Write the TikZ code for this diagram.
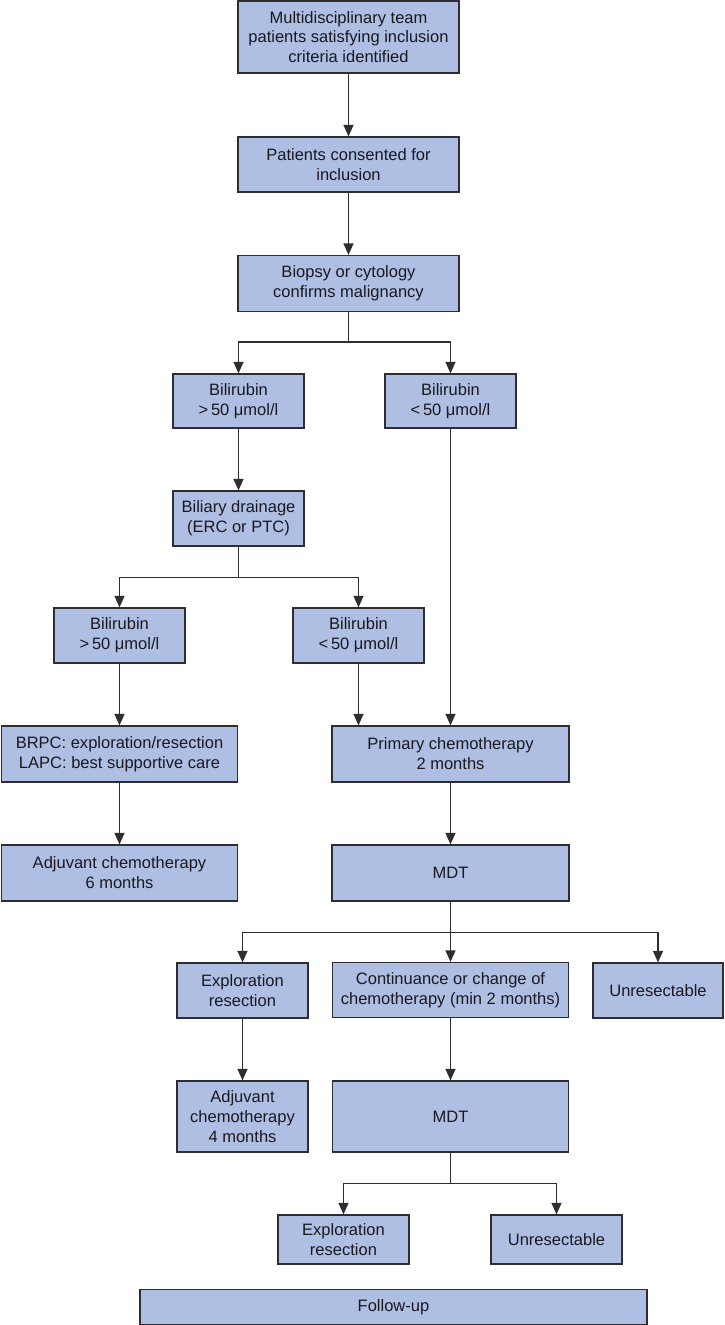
\documentclass[tikz,border=0pt]{standalone}
\usepackage{fontspec}
\setmainfont{Liberation Sans}
\usepackage{tikz}
\usetikzlibrary{arrows.meta}
\definecolor{boxfill}{RGB}{175,191,228}
\definecolor{boxline}{RGB}{45,45,50}
\definecolor{ink}{RGB}{25,25,30}
\tikzset{>={Triangle[length=0.23cm,width=0.2cm]}}
\tikzstyle{block} = [draw=boxline, fill=boxfill, line width=0.7pt, align=center,
  inner sep=0pt, text=ink, font=\fontsize{9.4}{11.3}\selectfont]
\tikzstyle{line} = [draw=boxline, line width=0.7pt, ->]

\begin{document}
\begin{tikzpicture}[x=0.02cm, y=-0.02cm]

\useasboundingbox (0,0) rectangle (724,1325);

% main column
\node[block, minimum width=4.42cm, minimum height=1.44cm] (team) at (348.5,37)
  {Multidisciplinary team\\patients satisfying inclusion\\criteria identified};
\node[block, minimum width=4.42cm, minimum height=1.1cm] (consent) at (348.5,164.5)
  {Patients consented for\\inclusion};
\node[block, minimum width=4.42cm, minimum height=1.12cm] (biopsy) at (348.5,283.5)
  {Biopsy or cytology\\confirms malignancy};

% bilirubin branches
\node[block, minimum width=2.62cm, minimum height=1.08cm] (bilhi) at (238.5,401)
  {Bilirubin\\>\,50 μmol/l};
\node[block, minimum width=2.62cm, minimum height=1.08cm] (billo) at (450.5,401)
  {Bilirubin\\<\,50 μmol/l};
\node[block, minimum width=2.62cm, minimum height=1.1cm] (drain) at (238.5,518.5)
  {Biliary drainage\\(ERC or PTC)};
\node[block, minimum width=2.62cm, minimum height=1.1cm] (bilhitwo) at (119.5,635.5)
  {Bilirubin\\>\,50 μmol/l};
\node[block, minimum width=2.62cm, minimum height=1.1cm] (billotwo) at (358.5,635.5)
  {Bilirubin\\<\,50 μmol/l};

\node[block, minimum width=4.72cm, minimum height=1.12cm] (brpc) at (119.5,754)
  {BRPC: exploration/resection\\LAPC: best supportive care};
\node[block, minimum width=4.74cm, minimum height=1.12cm] (primary) at (450.5,754)
  {Primary chemotherapy\\2 months};
\node[block, minimum width=4.72cm, minimum height=1.12cm] (adjsix) at (119.5,873)
  {Adjuvant chemotherapy\\6 months};
\node[block, minimum width=4.74cm, minimum height=1.12cm] (mdt) at (450.5,873) {MDT};

% after first MDT
\node[block, minimum width=2.62cm, minimum height=1.1cm] (explore) at (242.5,990.5)
  {Exploration\\resection};
\node[block, minimum width=4.72cm, minimum height=1.1cm] (continue) at (450.5,990)
  {Continuance or change of\\chemotherapy (min 2 months)};
\node[block, minimum width=2.6cm, minimum height=1.1cm] (unres) at (658,990.5)
  {Unresectable};
\node[block, minimum width=2.62cm, minimum height=1.42cm] (adjfour) at (242.5,1116.5)
  {Adjuvant\\chemotherapy\\4 months};
\node[block, minimum width=4.72cm, minimum height=1.42cm] (mdttwo) at (450.5,1116.5) {MDT};

% after second MDT
\node[block, minimum width=2.62cm, minimum height=0.98cm] (exploretwo) at (343.5,1239.5)
  {Exploration\\resection};
\node[block, minimum width=2.62cm, minimum height=0.98cm] (unrestwo) at (556.5,1239.5)
  {Unresectable};
\node[block, minimum width=10.14cm, minimum height=0.7cm] (follow) at (393.5,1307)
  {Follow-up};

% connectors
\draw[line] (team) -- (consent);
\draw[line] (consent) -- (biopsy);
\draw[line] (biopsy.south) -- ++(0,30) -| (bilhi.north);
\draw[line] (biopsy.south) -- ++(0,30) -| (billo.north);
\draw[line] (bilhi) -- (drain);
\draw[line] (billo.south) -- (billo.south |- primary.north);
\draw[line] (drain.south) -- ++(0,31) -| (bilhitwo.north);
\draw[line] (drain.south) -- ++(0,31) -| (billotwo.north);
\draw[line] (bilhitwo.south) -- (bilhitwo.south |- brpc.north);
\draw[line] (billotwo.south) -- (billotwo.south |- primary.north);
\draw[line] (brpc) -- (adjsix);
\draw[line] (primary) -- (mdt);
\draw[line] (mdt.south) -- ++(0,31) -| (explore.north);
\draw[line] (mdt) -- (continue);
\draw[line] (mdt.south) -- ++(0,31) -| (unres.north);
\draw[line] (explore) -- (adjfour);
\draw[line] (continue) -- (mdttwo);
\draw[line] (mdttwo.south) -- ++(0,31) -| (exploretwo.north);
\draw[line] (mdttwo.south) -- ++(0,31) -| (unrestwo.north);

\end{tikzpicture}
\end{document}
